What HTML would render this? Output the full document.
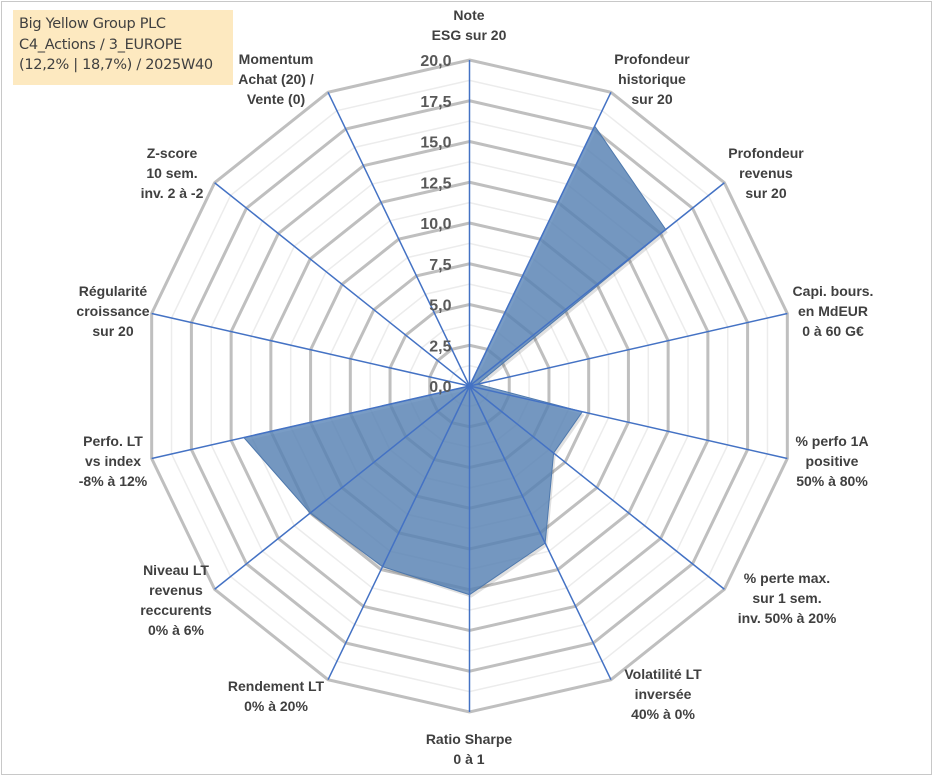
<!DOCTYPE html>
<html><head><meta charset="utf-8"><style>
html,body{margin:0;padding:0;background:#fff;}
#wrap{position:relative;width:933px;height:776px;overflow:hidden;font-family:"Liberation Sans",sans-serif;}
#frame{position:absolute;left:1px;top:1px;width:929px;height:772px;border:1px solid #c8c8c8;}
#title{position:absolute;left:13px;top:10px;width:220px;height:75px;background:#fde9c0;color:#404040;font-family:"DejaVu Sans","Liberation Sans",sans-serif;font-size:14.5px;line-height:20.5px;padding:4px 0 0 6px;box-sizing:border-box;white-space:nowrap;letter-spacing:-0.3px;}
.lbl{position:absolute;font-weight:bold;font-size:14px;line-height:20px;color:#404040;text-align:center;white-space:nowrap;transform:translateX(-50%);}
svg{position:absolute;left:0;top:0;}
</style></head><body>
<div id="wrap">
<div id="frame"></div>
<svg id="chart" width="933" height="776"></svg>
<div id="title">Big Yellow Group PLC<br>C4_Actions / 3_EUROPE<br>(12,2% | 18,7%) / 2025W40</div>
<div class="lbl" style="left:469px;top:5px">Note<br>ESG sur 20</div>
<div class="lbl" style="left:652px;top:49px">Profondeur<br>historique<br>sur 20</div>
<div class="lbl" style="left:766px;top:143px">Profondeur<br>revenus<br>sur 20</div>
<div class="lbl" style="left:833px;top:281px">Capi. bours.<br>en MdEUR<br>0 à 60 G€</div>
<div class="lbl" style="left:832px;top:431px">% perfo 1A<br>positive<br>50% à 80%</div>
<div class="lbl" style="left:787px;top:568px">% perte max.<br>sur 1 sem.<br>inv. 50% à 20%</div>
<div class="lbl" style="left:663px;top:664px">Volatilité LT<br>inversée<br>40% à 0%</div>
<div class="lbl" style="left:469px;top:729px">Ratio Sharpe<br>0 à 1</div>
<div class="lbl" style="left:276px;top:676px">Rendement LT<br>0% à 20%</div>
<div class="lbl" style="left:176px;top:560px">Niveau LT<br>revenus<br>reccurents<br>0% à 6%</div>
<div class="lbl" style="left:113px;top:431px">Perfo. LT<br>vs index<br>-8% à 12%</div>
<div class="lbl" style="left:113px;top:281px">Régularité<br>croissance<br>sur 20</div>
<div class="lbl" style="left:172px;top:143px">Z-score<br>10 sem.<br>inv. 2 à -2</div>
<div class="lbl" style="left:276px;top:49px">Momentum<br>Achat (20) /<br>Vente (0)</div>
</div>
<script>
const categories=["Note ESG","Profondeur historique","Profondeur revenus","Capi","Perfo 1A","Perte max","Volatilité","Sharpe","Rendement LT","Niveau LT","Perfo LT","Régularité","Z-score","Momentum"];
const values=[0,17.7,15.4,0.5,7.1,6.6,10.7,12.8,12.3,12.5,14.2,0,0,0];
const ticks=[0,2.5,5,7.5,10,12.5,15,17.5,20];
const tickLabels=["0,0","2,5","5,0","7,5","10,0","12,5","15,0","17,5","20,0"];
const CX=469.5,CY=386,R=326,MAX=20;
const svg=document.getElementById('chart');
const NS='http://www.w3.org/2000/svg';
const N=categories.length;
function ang(i){return i*2*Math.PI/N;}
function pt(i,v){const r=v/MAX*R;return [CX+r*Math.sin(ang(i)),CY-r*Math.cos(ang(i))];}
function mk(t,a){const e=document.createElementNS(NS,t);for(const k in a)e.setAttribute(k,a[k]);svg.appendChild(e);return e;}
function ring(v){const p=[];for(let i=0;i<N;i++)p.push(pt(i,v).join(','));return p.join(' ');}
// minor rings
for(let k=0;k<ticks.length-1;k++){
  const e=mk('polygon',{points:ring((ticks[k]+ticks[k+1])/2),fill:'none',stroke:'#ececec','stroke-width':1.5});
  
  
}
for(let k=1;k<ticks.length;k++){
  const e=mk('polygon',{points:ring(ticks[k]),fill:'none',stroke:'#bfbfbf','stroke-width':3});
  
  
}
// series
const sp=values.map((v,i)=>pt(i,v).join(',')).join(' ');
const sh=mk('polygon',{points:sp,fill:'#000',opacity:0.12,transform:'translate(2,3)'});


const poly=mk('polygon',{points:sp,fill:'#5b86b8','fill-opacity':0.82,stroke:'#4f79ad','stroke-width':1});


// axes
for(let i=0;i<N;i++){
  const p=pt(i,MAX);
  const l=mk('line',{x1:CX,y1:CY,x2:p[0],y2:p[1],stroke:'#4472c4','stroke-width':1.5});
  
  
}
// tick labels
for(let k=0;k<ticks.length;k++){
  const y=CY-ticks[k]/MAX*R;
  const t=mk('text',{x:CX-18,y:y+6,'text-anchor':'end','font-family':'Liberation Sans, sans-serif','font-weight':'bold','font-size':16,fill:'#595959'});
  t.textContent=tickLabels[k];
  
  
}
</script>
</body></html>
